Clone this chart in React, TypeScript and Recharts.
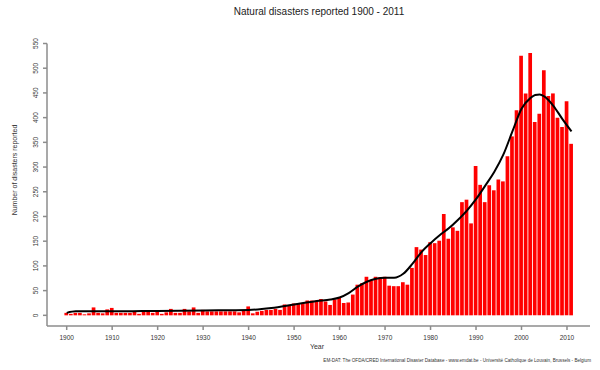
import React from "react";
import { ComposedChart, Bar, Line, XAxis, YAxis } from "recharts";

// reported disasters per year, 1900 - 2011
const startYear = 1900;
const disasters = [
  5, 3, 5, 5, 2, 4, 16, 5, 4, 12,
  15, 5, 5, 5, 5, 7, 3, 7, 7, 5,
  7, 3, 6, 13, 5, 5, 13, 8, 16, 5,
  11, 8, 8, 8, 8, 8, 8, 8, 6, 9,
  18, 4, 7, 9, 11, 11, 13, 11, 22, 21,
  24, 24, 25, 30, 30, 30, 33, 28, 21, 32,
  36, 25, 26, 42, 62, 65, 78, 71, 78, 77,
  78, 60, 59, 59, 67, 62, 96, 138, 133, 122,
  148, 146, 151, 205, 155, 178, 171, 229, 234, 186,
  302, 264, 229, 263, 253, 275, 271, 322, 362, 415,
  525, 449, 531, 391, 408, 496, 444, 449, 400, 381,
  433, 347,
];

// smoothed trend, read at a few years
const trendYears = [
  1900, 1902, 1910, 1920, 1930, 1940, 1945, 1950, 1955, 1958, 1960, 1962,
  1964, 1966, 1968, 1970, 1972, 1974, 1976, 1978, 1980, 1982, 1984, 1986,
  1988, 1990, 1992, 1994, 1996, 1998, 2000, 2002, 2003, 2004, 2005, 2007,
  2009, 2011,
];
const trendValues = [
  5, 8, 8, 9, 10, 11, 15, 22, 29, 32, 36, 45,
  58, 68, 74, 76, 76, 84, 104, 128, 146, 162, 176, 193,
  212, 235, 262, 290, 325, 372, 418, 440, 446, 447, 443, 424,
  397, 372,
];

const xTicks = [1900, 1910, 1920, 1930, 1940, 1950, 1960, 1970, 1980, 1990, 2000, 2010];
const yTicks = [0, 50, 100, 150, 200, 250, 300, 350, 400, 450, 500, 550];

const data = disasters.map((v, i) => {
  const year = startYear + i;
  const t = trendYears.indexOf(year);
  return { year, count: v, trend: t >= 0 ? trendValues[t] : null };
});

const font = "'Liberation Sans', Arial, sans-serif";
const axisColor = "#8c8c8c";

const YTick = (props: any) => {
  const { y, payload } = props;
  return (
    <text
      x={0}
      y={0}
      transform={`translate(38, ${y}) rotate(-90)`}
      textAnchor="middle"
      fontSize={6.5}
      fontFamily={font}
      fill="#333"
    >
      {payload.value}
    </text>
  );
};

const XTick = (props: any) => {
  const { x, payload } = props;
  return (
    <text x={x} y={340} textAnchor="middle" fontSize={6.5} fontFamily={font} fill="#333">
      {payload.value}
    </text>
  );
};

export default function App() {
  return (
    <div style={{ position: "absolute", left: 0, top: 0, width: 600, height: 370, background: "#fff" }}>
      <ComposedChart
        width={600}
        height={370}
        data={data}
        margin={{ top: 43.5, right: 10, left: 17, bottom: 14 }}
      >
        <XAxis
          dataKey="year"
          type="number"
          domain={[1895.67, 2015.06]}
          ticks={xTicks}
          interval={0}
          height={30}
          stroke={axisColor}
          strokeWidth={1.5}
          tickSize={4}
          tick={<XTick />}
        />
        <YAxis
          type="number"
          domain={[-21.6, 550]}
          ticks={yTicks}
          interval={0}
          width={30}
          stroke={axisColor}
          strokeWidth={1.5}
          tickSize={4}
          tick={<YTick />}
        />
        <Bar dataKey="count" fill="#ff0000" barSize={3.7} isAnimationActive={false} />
        <Line
          dataKey="trend"
          type="monotone"
          connectNulls
          dot={false}
          stroke="#000"
          strokeWidth={2}
          isAnimationActive={false}
        />
      </ComposedChart>
      <svg
        width={600}
        height={370}
        style={{ position: "absolute", left: 0, top: 0, pointerEvents: "none" }}
      >
        <text x={319} y={15} textAnchor="middle" fontSize={10} fontFamily={font} fill="#222">
          Natural disasters reported 1900 - 2011
        </text>
        <text
          x={0}
          y={0}
          transform="translate(17, 170) rotate(-90)"
          textAnchor="middle"
          fontSize={7}
          fontFamily={font}
          fill="#333"
        >
          Number of disasters reported
        </text>
        <text x={317} y={349} textAnchor="middle" fontSize={7} fontFamily={font} fill="#333">
          Year
        </text>
        <text x={591} y={362} textAnchor="end" fontSize={4.6} fontFamily={font} fill="#333">
          EM-DAT: The OFDA/CRED International Disaster Database - www.emdat.be - Université Catholique de Louvain, Brussels - Belgium
        </text>
      </svg>
    </div>
  );
}
